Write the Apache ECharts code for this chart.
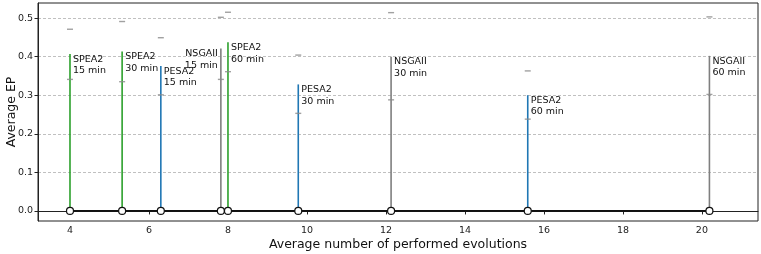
<!DOCTYPE html>
<html><head><meta charset="utf-8">
<script src="https://cdn.jsdelivr.net/npm/echarts@6/dist/echarts.min.js"></script>
<style>html,body{margin:0;padding:0;background:#fff}#c{width:761px;height:254px}</style>
</head><body><div id="c"></div>
<script>
const algorithms = ['SPEA2','SPEA2','PESA2','NSGAII','SPEA2','PESA2','NSGAII','PESA2','NSGAII'];
const budgets = ['15 min','30 min','15 min','15 min','60 min','30 min','30 min','60 min','60 min'];
const evolutions = [4.0, 5.32, 6.30, 7.82, 8.0, 9.78, 12.13, 15.59, 20.19];
const stemTops = [0.407, 0.413, 0.376, 0.421, 0.437, 0.328, 0.400, 0.300, 0.402];
const meanEP = [0.341, 0.335, 0.301, 0.341, 0.361, 0.253, 0.288, 0.238, 0.302];
const maxEP = [0.471, 0.491, 0.449, 0.502, 0.515, 0.404, 0.514, 0.363, 0.503];
const labelLeft = [false,false,false,true,false,false,false,false,false];
const xTicks = [4,6,8,10,12,14,16,18,20];
const yTicks = [0,0.1,0.2,0.3,0.4,0.5];
const algoColors = {SPEA2:'#2ca02c', PESA2:'#1f77b4', NSGAII:'#7f7f7f'};

const FONT = 'DejaVu Sans';
const stemData = evolutions.map((x,i)=>[x, stemTops[i], i]);

const chart = echarts.init(document.getElementById('c'), null, {renderer:'canvas'});
chart.setOption({
  animation:false,
  backgroundColor:'#fff',
  textStyle:{fontFamily:FONT},
  grid:{left:38, right:3, top:3, bottom:33, show:true, borderColor:'#222', borderWidth:1, containLabel:false, outerBoundsMode:'none'},
  xAxis:{
    type:'value', min:3.19, max:21.42,
    name:'Average number of performed evolutions', nameLocation:'middle', nameGap:17, nameMoveOverlap:false,
    nameTextStyle:{fontFamily:FONT, fontSize:12.5, color:'#111'},
    axisLine:{show:true, lineStyle:{color:'#222', width:1}},
    axisTick:{show:true, length:3.5, inside:false, lineStyle:{color:'#222'}, customValues:xTicks},
    axisLabel:{fontFamily:FONT, fontSize:9.5, color:'#222', margin:5, customValues:xTicks, formatter:v=>String(v)},
    splitLine:{show:false}
  },
  yAxis:{
    type:'value', min:-0.026, max:0.539,
    name:'Average EP', nameLocation:'middle', nameGap:20, nameRotate:90, nameMoveOverlap:false,
    nameTextStyle:{fontFamily:FONT, fontSize:12.5, color:'#111'},
    axisLine:{show:true, lineStyle:{color:'#222', width:1}},
    axisTick:{show:true, length:3.5, inside:false, lineStyle:{color:'#222'}, customValues:yTicks},
    axisLabel:{fontFamily:FONT, fontSize:9.5, color:'#222', margin:5, customValues:yTicks, formatter:v=>v.toFixed(1)},
    splitLine:{show:true, lineStyle:{color:'#b0b0b0', type:[3,2], width:0.8}}
  },
  series:[
    {
      type:'custom', z:2,
      data:stemData,
      renderItem:(params, api)=>{
        const i = api.value(2);
        const x = api.value(0);
        const p0 = api.coord([x, 0]);
        const p1 = api.coord([x, api.value(1)]);
        const color = algoColors[algorithms[i]];
        const left = labelLeft[i];
        return {type:'group', children:[
          {type:'line', shape:{x1:p0[0], y1:p0[1], x2:p1[0], y2:p1[1]}, style:{stroke:color, lineWidth:1.6}},
          {type:'text', x:p1[0] + (left ? -3 : 3), y:p1[1]-0.5,
            style:{text:algorithms[i] + '\n' + budgets[i], fill:'#111', font:'9.5px "DejaVu Sans"', lineHeight:11.5,
              align: left ? 'right' : 'left', verticalAlign:'top'}}
        ]};
      }
    },
    {
      type:'scatter', z:3, symbol:'rect', symbolSize:[6,1.4],
      itemStyle:{color:'#8a8a8a'},
      data:evolutions.map((x,i)=>[x, meanEP[i]])
    },
    {
      type:'scatter', z:3, symbol:'rect', symbolSize:[6,1.4],
      itemStyle:{color:'#8a8a8a'},
      data:evolutions.map((x,i)=>[x, maxEP[i]])
    },
    {
      type:'line', z:4, symbol:'circle', symbolSize:7, showSymbol:true,
      lineStyle:{color:'#111', width:1.8},
      itemStyle:{color:'#fff', borderColor:'#111', borderWidth:1.2},
      data:evolutions.map(x=>[x,0])
    }
  ]
});
</script></body></html>
